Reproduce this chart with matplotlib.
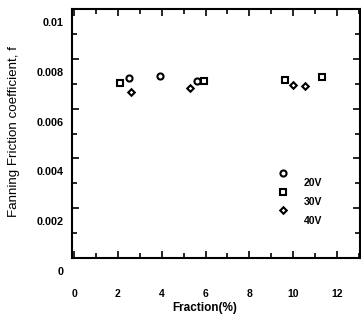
import matplotlib
matplotlib.use("Agg")
import matplotlib.pyplot as plt
from matplotlib.ticker import MultipleLocator
from matplotlib.transforms import ScaledTranslation

# fanning friction coefficient vs fraction, three voltages
frac_20v = [2.51, 3.93, 5.62]
f_20v = [0.00723, 0.00731, 0.00711]
frac_30v = [2.10, 5.94, 9.63, 11.32]
f_30v = [0.00703, 0.00711, 0.00715, 0.00727]
frac_40v = [2.60, 5.30, 10.0, 10.55]
f_40v = [0.00667, 0.00683, 0.00695, 0.00691]

series_labels = ["20V", "30V", "40V"]
x_ticks = [0, 2, 4, 6, 8, 10, 12]
y_ticks = [0, 0.002, 0.004, 0.006, 0.008, 0.01]
y_tick_labels = ["0", "0.002", "0.004", "0.006", "0.008", "0.01"]

plt.rcParams['font.family'] = ['Liberation Sans', 'DejaVu Sans']

fig = plt.figure(figsize=(3.61, 3.24), dpi=100)
ax = fig.add_axes([0.1994, 0.2037, 0.7976, 0.7683])

mk = dict(linestyle='none', markerfacecolor='white', markeredgecolor='black',
          markeredgewidth=1.5, color='black')
ax.plot(frac_20v, f_20v, marker='o', markersize=4.4, **mk)
ax.plot(frac_30v, f_30v, marker='s', markersize=4.4, **mk)
ax.plot(frac_40v, f_40v, marker='D', markersize=3.3, **mk)

ax.set_xlim(-0.1, 13.05)
ax.set_ylim(0, 0.01)
ax.set_xticks(x_ticks)
ax.xaxis.set_minor_locator(MultipleLocator(1))
ax.set_yticks(y_ticks)
ax.set_yticklabels([])
ax.yaxis.set_minor_locator(MultipleLocator(0.001))
ax.tick_params(which='both', direction='in', top=True, right=True, width=1.2)
ax.tick_params(which='major', length=5)
ax.tick_params(which='minor', length=3.5)
ax.tick_params(axis='x', which='major', pad=22, labelsize=7.5)
for lab in ax.get_xticklabels():
    lab.set_fontweight('bold')
for sp in ax.spines.values():
    sp.set_linewidth(1.5)

# the y labels in the scan sit a bit lower than their ticks
shift = ScaledTranslation(0, -14 / 100, fig.dpi_scale_trans)
for val, txt in zip(y_ticks, y_tick_labels):
    ax.text(-0.03, val, txt, transform=ax.get_yaxis_transform() + shift,
            ha='right', va='center', fontsize=7.8, fontweight='bold', clip_on=False)

ax.set_ylabel("Fanning Friction coefficient, f", fontsize=9.6)
ax.yaxis.set_label_coords(-0.18, 0.51)
ax.set_xlabel("Fraction(%)", fontsize=8.5, fontweight='bold')
ax.xaxis.set_label_coords(0.46, -0.178)

# hand-placed legend: markers and text do not line up in the original
leg_y = [0.341, 0.265, 0.193]
leg_txt_y = [0.301, 0.225, 0.149]
leg_markers = [('o', 4.4), ('s', 4.4), ('D', 3.3)]
for (m, ms), yy, ty, lab in zip(leg_markers, leg_y, leg_txt_y, series_labels):
    ax.plot([0.733], [yy], marker=m, markersize=ms, transform=ax.transAxes, **mk)
    ax.text(0.805, ty, lab, transform=ax.transAxes, ha='left', va='center',
            fontsize=7.5, fontweight='bold')

fig.savefig("out.png", dpi=100)
